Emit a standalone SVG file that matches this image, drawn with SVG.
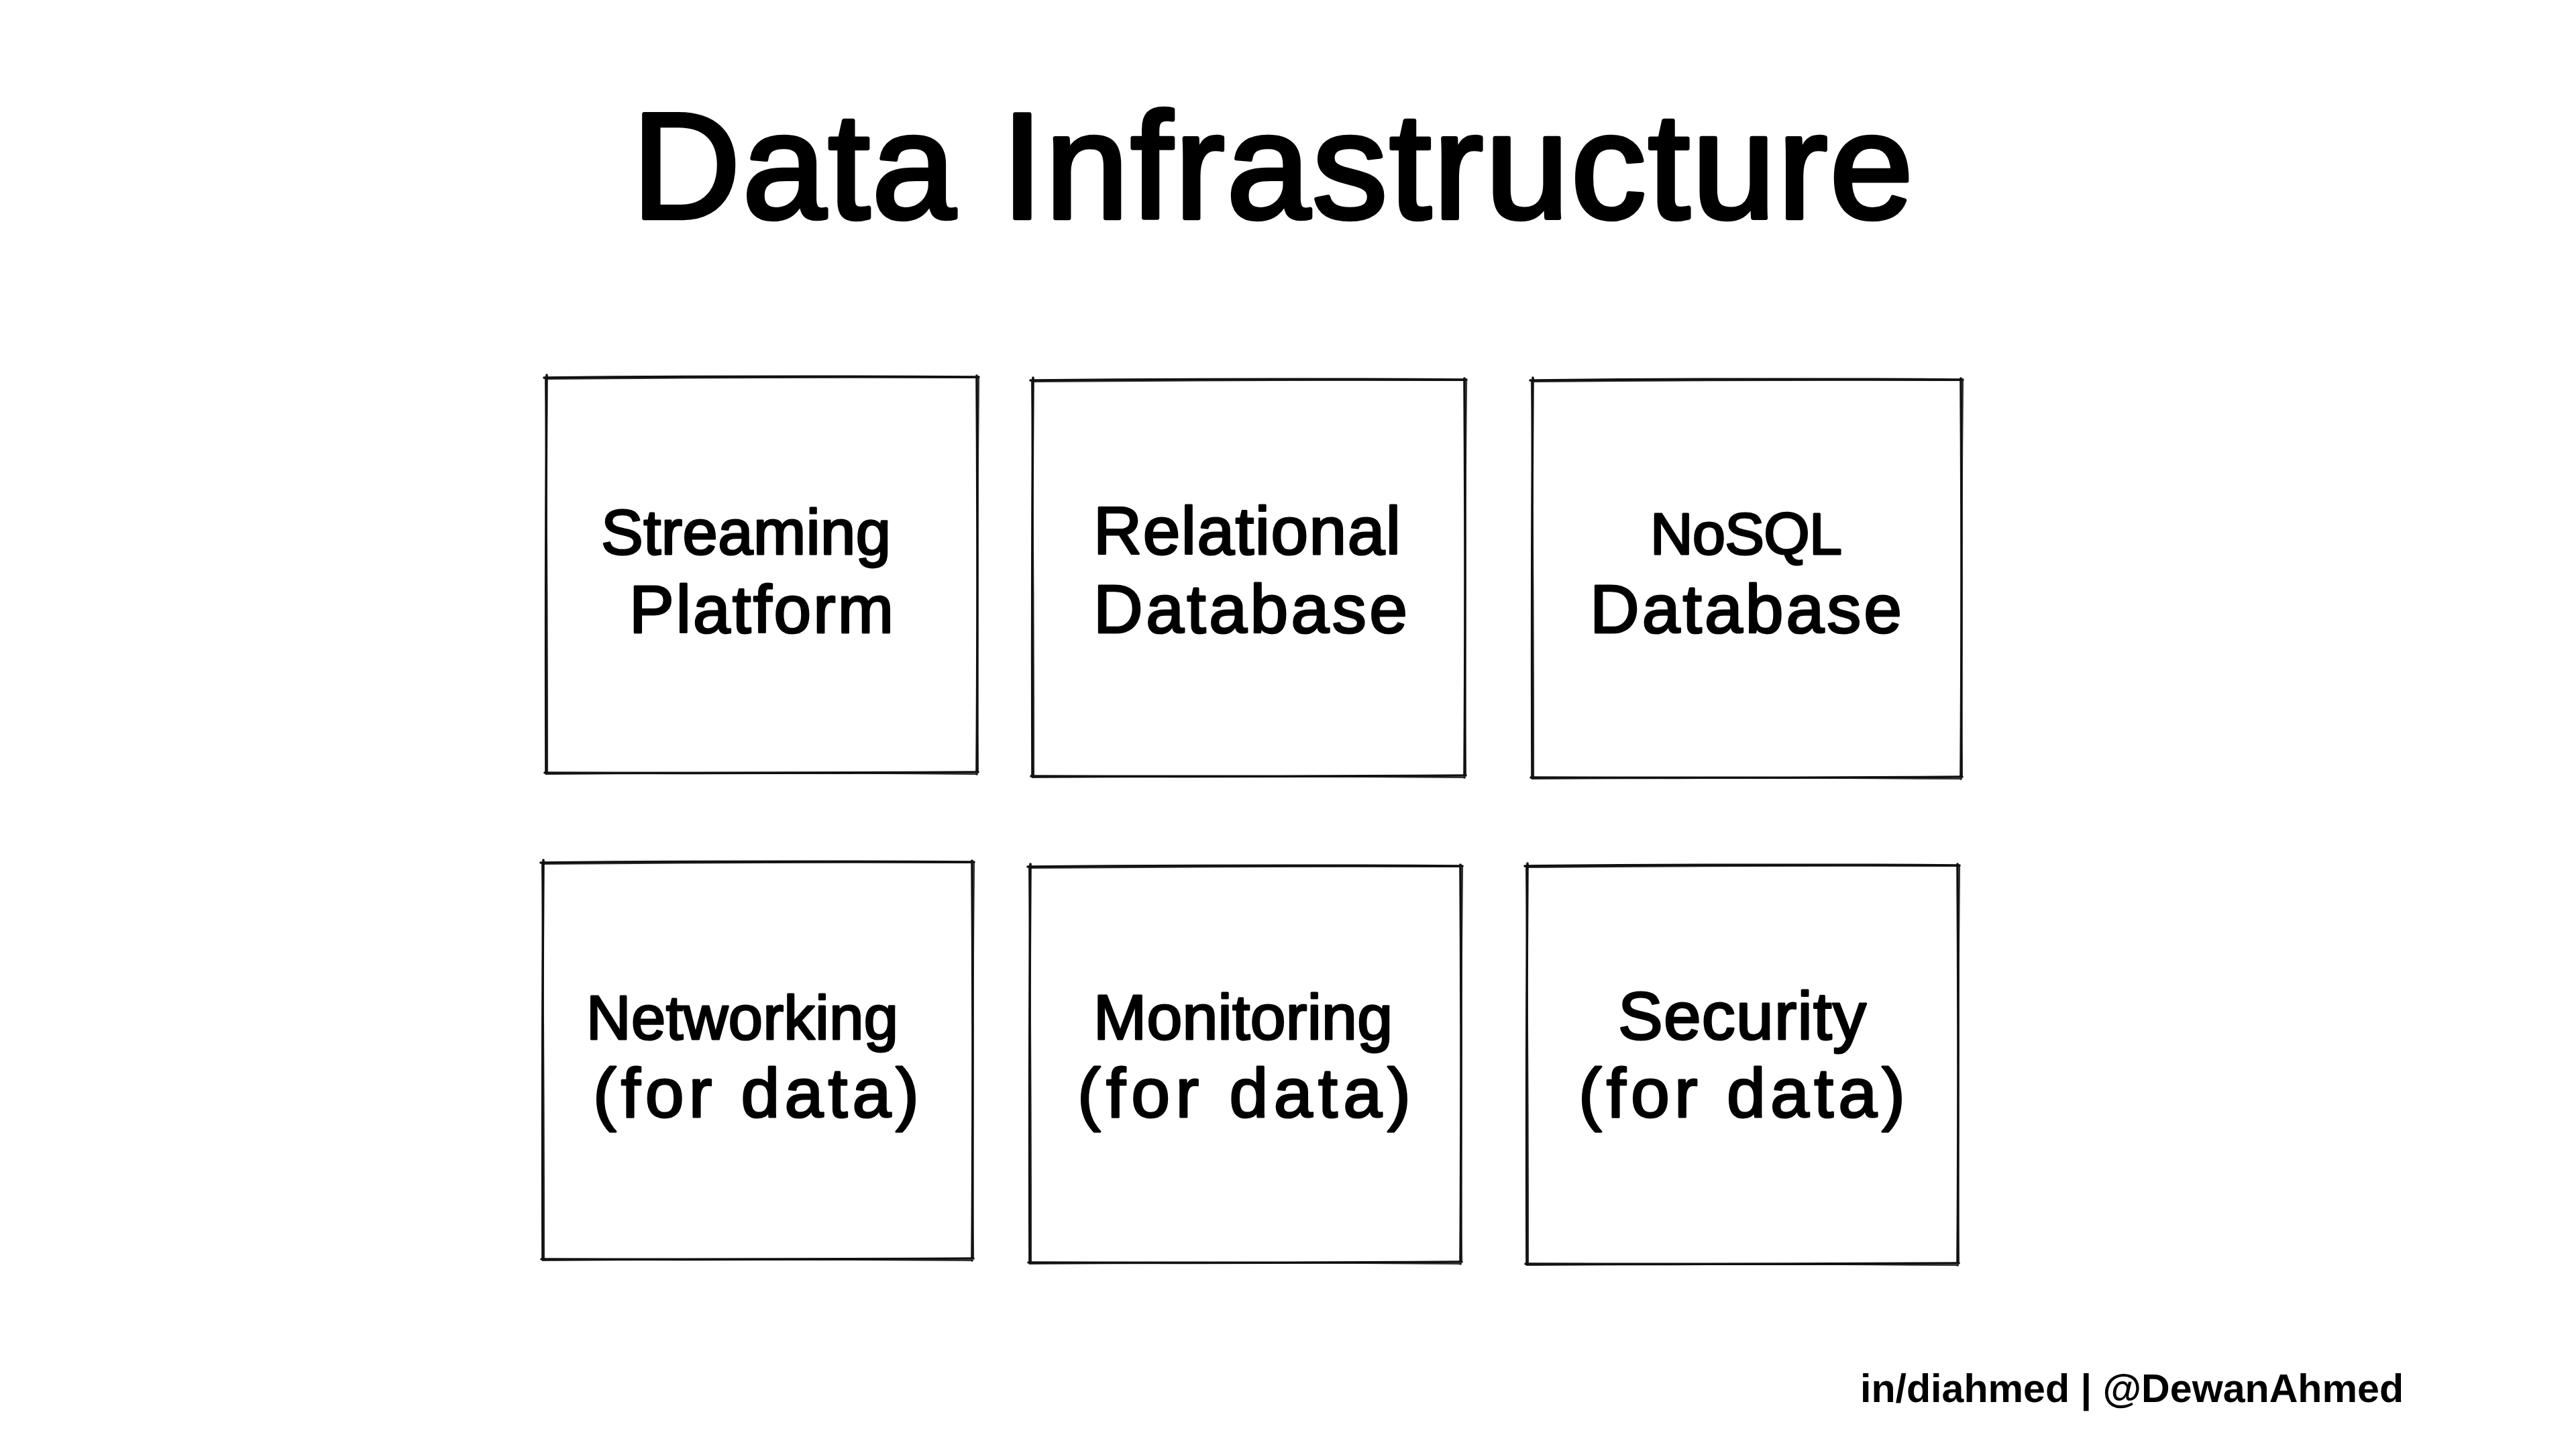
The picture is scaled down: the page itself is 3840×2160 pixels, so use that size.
<svg xmlns="http://www.w3.org/2000/svg" width="3840" height="2160" viewBox="0 0 3840 2160">
<style>
.bg{fill:#ffffff}
.r1{fill:none;stroke:#111;stroke-width:3.6;stroke-linecap:round;stroke-linejoin:round}
.r2{fill:none;stroke:#111;stroke-width:2.2;stroke-linecap:round;stroke-linejoin:round;opacity:.85}
.title{font-family:"Liberation Sans",Arial,sans-serif;font-size:224px;fill:#000;stroke:#000;stroke-width:6.5;stroke-linejoin:round}
.hand{font-family:"Liberation Sans",Arial,sans-serif;fill:#000;stroke:#000;stroke-width:3;stroke-linejoin:round;stroke-linecap:round}
.foot{font-family:"Liberation Sans",Arial,sans-serif;font-size:60px;font-weight:bold;fill:#000}
</style>
<rect class="bg" x="0" y="0" width="3840" height="2160"/>
<text id="title" class="title" x="942" y="325" textLength="1910" lengthAdjust="spacing">Data Infrastructure</text>
<g id="connectors"/>
<g id="node-streaming">
<path class="r1" d="M811 563 Q1135 560 1459 562 M1456 560 Q1458 857 1456 1154 M1458 1151 Q1135 1153 812 1152 M814 1153 Q813 857 815 559"/>
<path class="r2" d="M814 565 Q1135 562 1455 563 M1459 563 Q1456 857 1458 1150 M1454 1154 Q1135 1151 814 1154 M816 1151 Q816 857 813 564"/>
<text class="hand" x="896" y="826" style="font-size:94px" textLength="432" lengthAdjust="spacing">Streaming</text>
<text class="hand" x="938" y="943" style="font-size:100px" textLength="394" lengthAdjust="spacing">Platform</text>
</g>
<g id="node-relational">
<path class="r1" d="M1536 567 Q1861 564 2186 566 M2183 564 Q2185 861 2183 1159 M2185 1156 Q1861 1158 1537 1157 M1539 1158 Q1538 861 1540 563"/>
<path class="r2" d="M1539 569 Q1861 566 2182 567 M2186 567 Q2183 861 2185 1155 M2181 1159 Q1861 1156 1539 1159 M1541 1156 Q1541 861 1538 568"/>
<text class="hand" x="1630" y="826" style="font-size:100px" textLength="458" lengthAdjust="spacing">Relational</text>
<text class="hand" x="1630" y="943" style="font-size:102px" textLength="468" lengthAdjust="spacing">Database</text>
</g>
<g id="node-nosql">
<path class="r1" d="M2281 567 Q2604 564 2926 566 M2923 564 Q2925 862 2923 1161 M2925 1158 Q2604 1160 2282 1159 M2284 1160 Q2283 862 2285 563"/>
<path class="r2" d="M2284 569 Q2604 566 2922 567 M2926 567 Q2923 862 2925 1157 M2921 1161 Q2604 1158 2284 1161 M2286 1158 Q2286 862 2283 568"/>
<text class="hand" x="2460" y="826" style="font-size:88px" textLength="286" lengthAdjust="spacing">NoSQL</text>
<text class="hand" x="2370" y="943" style="font-size:102px" textLength="465" lengthAdjust="spacing">Database</text>
</g>
<g id="node-networking">
<path class="r1" d="M806 1286 Q1129 1283 1452 1285 M1449 1283 Q1451 1580 1449 1879 M1451 1876 Q1129 1878 807 1877 M809 1878 Q808 1580 810 1282"/>
<path class="r2" d="M809 1288 Q1129 1285 1448 1286 M1452 1286 Q1449 1580 1451 1875 M1447 1879 Q1129 1876 809 1879 M811 1876 Q811 1580 808 1287"/>
<text class="hand" x="874" y="1549" style="font-size:92px" textLength="465" lengthAdjust="spacing">Networking</text>
<text class="hand" x="884" y="1665" style="font-size:104px" textLength="486" lengthAdjust="spacing">(for data)</text>
</g>
<g id="node-monitoring">
<path class="r1" d="M1532 1292 Q1856 1289 2180 1291 M2177 1289 Q2179 1586 2177 1884 M2179 1881 Q1856 1883 1533 1882 M1535 1883 Q1534 1586 1536 1288"/>
<path class="r2" d="M1535 1294 Q1856 1291 2176 1292 M2180 1292 Q2177 1586 2179 1880 M2175 1884 Q1856 1881 1535 1884 M1537 1881 Q1537 1586 1534 1293"/>
<text class="hand" x="1630" y="1549" style="font-size:95px" textLength="446" lengthAdjust="spacing">Monitoring</text>
<text class="hand" x="1606" y="1665" style="font-size:104px" textLength="497" lengthAdjust="spacing">(for data)</text>
</g>
<g id="node-security">
<path class="r1" d="M2273 1291 Q2597 1288 2921 1290 M2918 1288 Q2920 1587 2918 1886 M2920 1883 Q2597 1885 2274 1884 M2276 1885 Q2275 1587 2277 1287"/>
<path class="r2" d="M2276 1293 Q2597 1290 2917 1291 M2921 1291 Q2918 1587 2920 1882 M2916 1886 Q2597 1883 2276 1886 M2278 1883 Q2278 1587 2275 1292"/>
<text class="hand" x="2412" y="1549" style="font-size:100px" textLength="370" lengthAdjust="spacing">Security</text>
<text class="hand" x="2353" y="1665" style="font-size:104px" textLength="487" lengthAdjust="spacing">(for data)</text>
</g>
<text id="footer" class="foot" x="2773" y="2090" textLength="810" lengthAdjust="spacingAndGlyphs">in/diahmed | @DewanAhmed</text>
</svg>
